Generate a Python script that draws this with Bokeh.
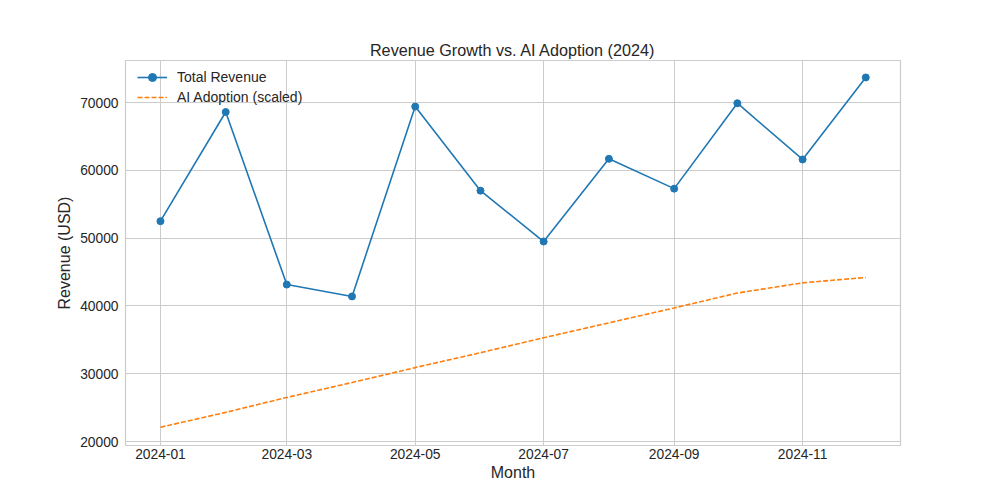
from datetime import datetime
from bokeh.plotting import figure
from bokeh.models import FixedTicker, DatetimeTickFormatter, Range1d, NumeralTickFormatter
from bokeh.embed import file_html
from bokeh.resources import INLINE

months = ["2024-01", "2024-02", "2024-03", "2024-04", "2024-05", "2024-06",
          "2024-07", "2024-08", "2024-09", "2024-10", "2024-11", "2024-12"]
total_revenue = [52500, 68600, 43150, 41400, 69400, 57000,
                 49500, 61700, 57300, 69900, 61600, 73700]
ai_adoption_scaled = [22100, 24300, 26500, 28700, 30900, 33100,
                      35300, 37500, 39700, 41900, 43400, 44200]
tick_months = ["2024-01", "2024-03", "2024-05", "2024-07", "2024-09", "2024-11"]

dates = [datetime.strptime(m, "%Y-%m") for m in months]

def ms(d):
    return (d - datetime(1970, 1, 1)).total_seconds() * 1000.0

DAY = 86400000.0
x0 = ms(datetime(2024, 1, 1))

FONT = "Liberation Sans"

p = figure(width=984, height=484, x_axis_type="datetime",
           output_backend="svg", toolbar_location=None,
           title="Revenue Growth vs. AI Adoption (2024)",
           min_border_left=125, min_border_right=84,
           min_border_top=60, min_border_bottom=39)

p.x_range = Range1d(x0 - 16.6 * DAY, x0 + 351.5 * DAY)
p.y_range = Range1d(19410, 76200)

p.line(dates, total_revenue, line_color="#1f77b4", line_width=1.6,
       legend_label="Total Revenue")
p.scatter(dates, total_revenue, size=7, fill_color="#1f77b4",
          line_color="#1f77b4", legend_label="Total Revenue")
p.line(dates, ai_adoption_scaled, line_color="#ff7f0e", line_width=1.6,
       line_dash="5 2", legend_label="AI Adoption (scaled)")

p.xaxis.ticker = FixedTicker(ticks=[ms(datetime.strptime(t, "%Y-%m")) for t in tick_months])
p.xaxis.formatter = DatetimeTickFormatter(months="%Y-%m", days="%Y-%m", years="%Y-%m")
p.yaxis.ticker = FixedTicker(ticks=[20000, 30000, 40000, 50000, 60000, 70000])
p.yaxis.formatter = NumeralTickFormatter(format="0")

for ax in (p.xaxis, p.yaxis):
    ax.axis_line_color = None
    ax.major_tick_line_color = None
    ax.minor_tick_line_color = None
    ax.major_tick_out = 0
    ax.major_tick_in = 0
    ax.minor_tick_out = 0
    ax.minor_tick_in = 0
    ax.major_label_text_font = FONT
    ax.major_label_text_font_size = "13.8px"
    ax.major_label_text_color = "#262626"
    ax.axis_label_text_font = FONT
    ax.axis_label_text_font_size = "16px"
    ax.axis_label_text_font_style = "normal"
    ax.axis_label_text_color = "#262626"

p.xaxis.major_label_standoff = 3
p.yaxis.major_label_standoff = 7
p.xaxis.axis_label = "Month"
p.yaxis.axis_label = "Revenue (USD)"
p.xaxis.axis_label_standoff = 2
p.yaxis.axis_label_standoff = 4

p.xgrid.grid_line_color = "#cccccc"
p.ygrid.grid_line_color = "#cccccc"
p.outline_line_color = "#cccccc"
p.outline_line_width = 1.2

p.title.text_font = FONT
p.title.text_font_size = "16.2px"
p.title.text_font_style = "normal"
p.title.text_color = "#262626"
p.title.align = "center"
p.title.offset = 0
p.title.standoff = 4

p.legend.location = (12, 338)
p.legend.background_fill_alpha = 0
p.legend.border_line_color = None
p.legend.label_text_font = FONT
p.legend.label_text_font_size = "14px"
p.legend.label_text_color = "#262626"
p.legend.glyph_width = 30
p.legend.label_standoff = 10
p.legend.spacing = 0
p.legend.padding = 0
p.legend.margin = 0
p.legend.label_height = 20
p.legend.glyph_height = 20

open("out.html", "w").write(file_html(p, INLINE))
